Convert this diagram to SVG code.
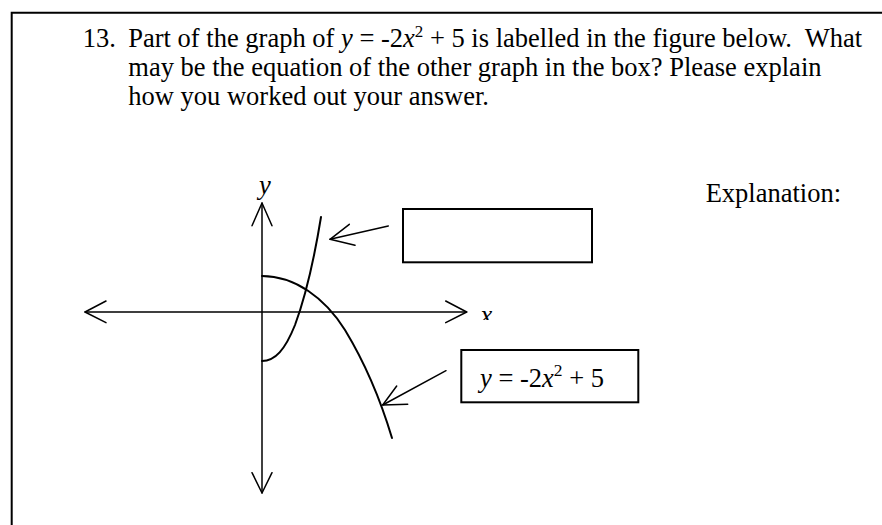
<svg xmlns="http://www.w3.org/2000/svg" width="882" height="525" viewBox="0 0 882 525">
<style>
.t{font-family:"Liberation Serif","Times New Roman",serif;font-size:26.5px;fill:#000}
.i{font-style:italic}
.ln{fill:none;stroke:#000;stroke-width:1.5;stroke-linecap:round;stroke-linejoin:round}
.cv{fill:none;stroke:#000;stroke-width:2;stroke-linecap:round}
.box{fill:#fff;stroke:#000;stroke-width:2}
</style>
<defs>
<clipPath id="xclip"><rect x="470" y="300" width="40" height="20"/></clipPath>
</defs>
<rect width="882" height="525" fill="#fff"/>
<g id="frame">
<path d="M11.7,525 V12.7 H882" fill="none" stroke="#000" stroke-width="2"/>
</g>
<g id="question">
<text class="t" x="82.7" y="46.5">13.</text>
<text class="t" x="128.3" y="46.5" xml:space="preserve">Part of the graph of <tspan class="i">y</tspan> = -2<tspan class="i">x</tspan><tspan font-size="17" dy="-10">2</tspan><tspan dy="10"> + 5 is labelled in the figure below.  What</tspan></text>
<text class="t" x="128.3" y="75.5">may be the equation of the other graph in the box? Please explain</text>
<text class="t" x="128.3" y="104.5">how you worked out your answer.</text>
</g>
<g id="explanation">
<text class="t" x="705.7" y="201.7">Explanation:</text>
</g>
<g id="axes">
<line class="ln" x1="262" y1="203" x2="262" y2="493"/>
<polyline class="ln" points="252,225.7 262,203 272,225.7"/>
<polyline class="ln" points="252,472.7 262,493 272,472.7"/>
<line class="ln" x1="85" y1="312" x2="466.7" y2="312"/>
<polyline class="ln" points="106,301 85,312 106,322.7"/>
<polyline class="ln" points="445.7,301 466.7,312 445.7,322.7"/>
<text class="t i" x="259" y="194" font-size="26">y</text>
<text class="t i" x="480.5" y="323.5" font-size="26" clip-path="url(#xclip)">x</text>
</g>
<g id="curve-other">
<path class="cv" d="M262,361 C275,361 285,350 295,325 C305,298 314,260 321,217"/>
</g>
<g id="curve-parabola">
<path class="cv" d="M262,276 C295,276 325,298 345,330 C362,358 380,398 392,438"/>
</g>
<g id="box-unknown">
<rect class="box" x="403" y="209" width="189" height="53.3"/>
</g>
<g id="box-label">
<rect class="box" x="461.3" y="350" width="177" height="52.3"/>
<text class="t" x="480" y="386.7" font-size="27.5"><tspan class="i">y</tspan> = -2<tspan class="i">x</tspan><tspan font-size="17.5" dy="-10.5">2</tspan><tspan dy="10.5"> + 5</tspan></text>
</g>
<g id="connectors">
<line class="ln" x1="388.3" y1="226" x2="330" y2="239.3"/>
<polyline class="ln" points="349.3,224.3 330,239.3 355,245.3"/>
<line class="ln" x1="446" y1="370.7" x2="382.7" y2="405"/>
<polyline class="ln" points="396.7,386 382.7,405 407.7,404.3"/>
</g>
</svg>
